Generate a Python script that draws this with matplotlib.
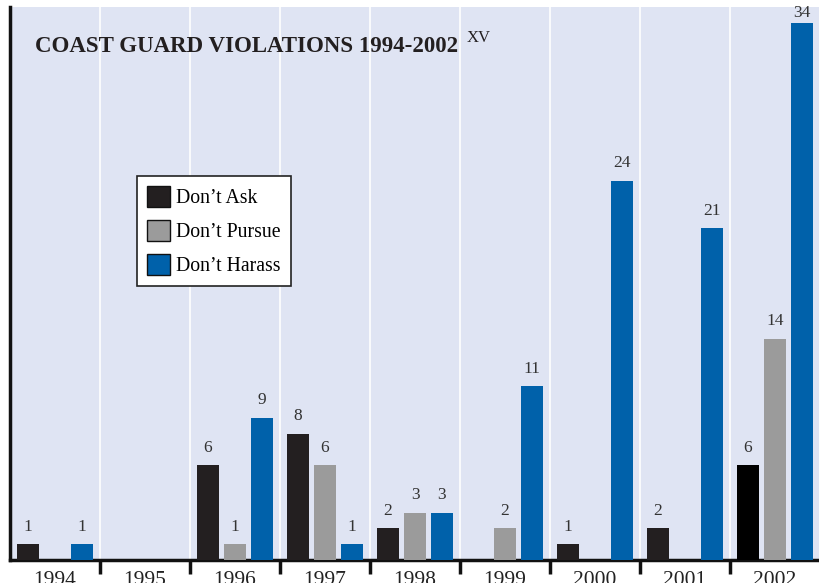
import numpy as np
import matplotlib.pyplot as plt
from matplotlib.patches import Patch

years = ["1994", "1995", "1996", "1997", "1998", "1999", "2000", "2001", "2002"]
dont_ask = [1, 0, 6, 8, 2, 0, 1, 2, 6]
dont_pursue = [0, 0, 1, 6, 3, 2, 0, 0, 14]
dont_harass = [1, 0, 9, 1, 3, 11, 24, 21, 34]

c_ask = "#231f20"
c_pursue = "#9b9b9b"
c_harass = "#0061aa"
bg = "#dfe4f3"

plt.rcParams['font.family'] = ['Liberation Serif', 'DejaVu Serif']

fig = plt.figure(figsize=(8.19, 5.83), dpi=100)
ax = fig.add_axes([10 / 819, 23 / 583, 810 / 819, 553 / 583])
ax.set_facecolor(bg)

x = np.arange(len(years))
w = 0.255
off = 0.3
ymax = 35

ask_colors = [c_ask] * len(years)
ask_colors[-1] = "#000000"  # last one is printed pure black

series = [
    (x - off, dont_ask, ask_colors),
    (x, dont_pursue, [c_pursue] * len(years)),
    (x + off, dont_harass, [c_harass] * len(years)),
]

for xs, vals, cols in series:
    ax.bar(xs, vals, width=w, color=cols, zorder=3)
    for xi, v in zip(xs, vals):
        if v > 0:
            # keep the label inside the plot for the tallest bar
            ty = min(v + 0.6, ymax - 0.9)
            ax.text(xi, ty, str(v), ha='center', va='bottom',
                    fontsize=12.5, color="#333333", zorder=4)

# white separators between years
for b in np.arange(0.5, len(years) - 0.5, 1):
    ax.axvline(b, color="white", lw=1.2, zorder=1)

ax.set_xlim(-0.5, len(years) - 0.5)
ax.set_ylim(0, ymax)

ax.set_xticks(x)
ax.set_xticklabels(years, fontsize=15.5, color="#222222")
ax.tick_params(axis='x', length=0, pad=8)
ax.set_xticks(np.arange(0.5, len(years) - 0.5, 1), minor=True)
ax.tick_params(axis='x', which='minor', length=10, width=2.5, color="#111111")
ax.set_yticks([])

for s in ['top', 'right']:
    ax.spines[s].set_visible(False)
ax.spines['left'].set_linewidth(2.5)
ax.spines['bottom'].set_linewidth(2.5)
ax.spines['left'].set_color("#111111")
ax.spines['bottom'].set_color("#111111")

fig.text(35 / 819, 1 - 52 / 583, "COAST GUARD VIOLATIONS 1994-2002", fontsize=16.5,
         fontweight='bold', color="#231f20", ha='left', va='baseline')
fig.text(467 / 819, 1 - 42 / 583, "XV", fontsize=12, color="#231f20",
         ha='left', va='baseline')

handles = [Patch(facecolor=c_ask, edgecolor="#111111", lw=1),
           Patch(facecolor=c_pursue, edgecolor="#111111", lw=1),
           Patch(facecolor=c_harass, edgecolor="#111111", lw=1)]
leg = ax.legend(handles, ["Don\u2019t Ask", "Don\u2019t Pursue", "Don\u2019t Harass"],
                loc='upper left', bbox_to_anchor=(127 / 810, 1 - 169 / 553),
                fontsize=14.2, frameon=True, fancybox=False, framealpha=1,
                edgecolor="#222222", handlelength=1.15, handleheight=1.25,
                handletextpad=0.35, labelspacing=0.6, borderpad=0.5,
                borderaxespad=0)
leg.get_frame().set_linewidth(1.2)

fig.savefig("out.png", dpi=100)
